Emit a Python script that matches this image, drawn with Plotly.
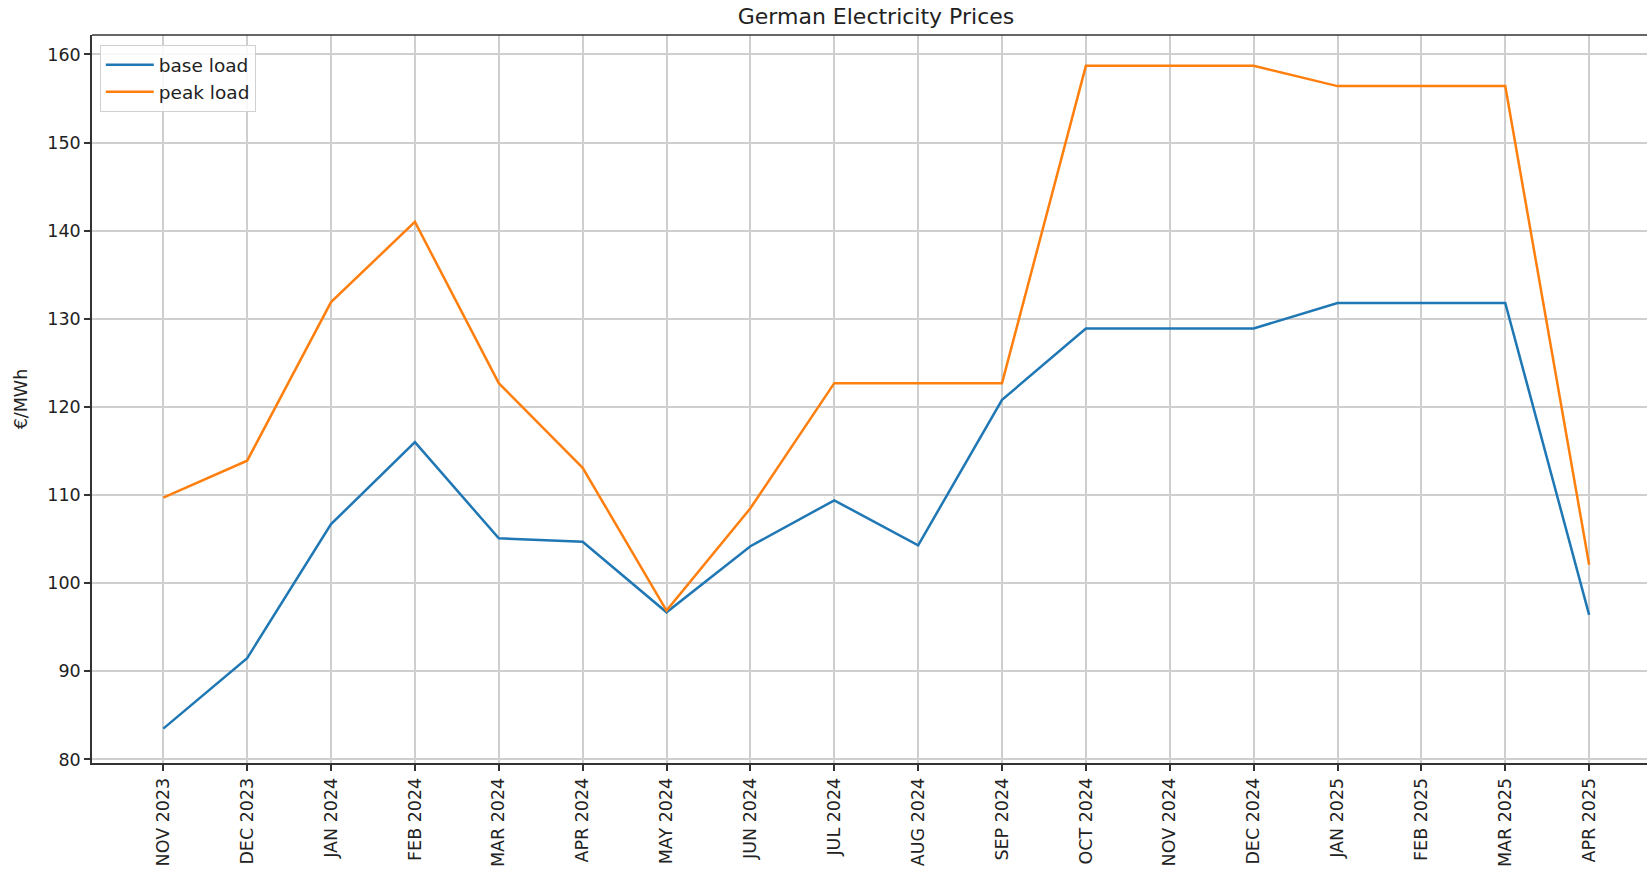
import plotly.graph_objects as go

months = ["NOV 2023", "DEC 2023", "JAN 2024", "FEB 2024", "MAR 2024", "APR 2024",
          "MAY 2024", "JUN 2024", "JUL 2024", "AUG 2024", "SEP 2024", "OCT 2024",
          "NOV 2024", "DEC 2024", "JAN 2025", "FEB 2025", "MAR 2025", "APR 2025"]
base_load = [83.5, 91.5, 106.7, 116.0, 105.1, 104.7, 96.7, 104.2, 109.4, 104.3,
             120.8, 128.9, 128.9, 128.9, 131.8, 131.8, 131.8, 96.4]
peak_load = [109.7, 113.9, 131.9, 141.0, 122.7, 113.1, 96.9, 108.5, 122.7, 122.7,
             122.7, 158.7, 158.7, 158.7, 156.4, 156.4, 156.4, 102.1]
y_ticks = [80, 90, 100, 110, 120, 130, 140, 150, 160]

FONT = "DejaVu Sans"
x_idx = list(range(len(months)))

fig = go.Figure()
fig.add_trace(go.Scatter(x=x_idx, y=base_load, mode="lines", name="base load",
                         line=dict(color="#1f77b4", width=2.5)))
fig.add_trace(go.Scatter(x=x_idx, y=peak_load, mode="lines", name="peak load",
                         line=dict(color="#ff7f0e", width=2.5)))

fig.update_layout(
    width=1647, height=876,
    margin=dict(l=92, r=0, t=35, b=113),
    paper_bgcolor="white", plot_bgcolor="white",
    font=dict(family=FONT, size=17, color="#222"),
    title=dict(text="German Electricity Prices", x=876 / 1647, xanchor="center",
               y=1 - 16 / 876, yanchor="middle",
               font=dict(family=FONT, size=22, color="#222")),
    showlegend=True,
    legend=dict(x=0.005, y=0.986, xanchor="left", yanchor="top",
                bgcolor="rgba(255,255,255,0.85)", bordercolor="#d0d0d0", borderwidth=1,
                font=dict(family=FONT, size=18.5, color="#222"),
                itemwidth=48, tracegroupgap=2),
)

fig.update_xaxes(
    range=[-0.85, 17.69],
    tickmode="array", tickvals=x_idx, ticktext=months, tickangle=-90,
    showgrid=True, gridcolor="#cfcfcf", gridwidth=1.5,
    showline=True, linecolor="#333", linewidth=1.5, mirror=False,
    ticks="outside", ticklen=6, tickwidth=1.5, tickcolor="#333",
    tickfont=dict(family=FONT, size=17.5, color="#222"),
    zeroline=False,
)
fig.update_yaxes(
    range=[79.6, 162.2],
    tickmode="array", tickvals=y_ticks,
    showgrid=True, gridcolor="#cfcfcf", gridwidth=1.5,
    showline=True, linecolor="#333", linewidth=1.5,
    ticks="outside", ticklen=6, tickwidth=1.5, tickcolor="#333",
    tickfont=dict(family=FONT, size=17.5, color="#222"),
    title=dict(text="€/MWh", font=dict(family=FONT, size=17.5, color="#222"), standoff=15),
    zeroline=False,
)
# top spine
fig.add_shape(type="line", xref="paper", yref="paper", x0=0, x1=1, y0=1, y1=1,
              line=dict(color="#333", width=1.5))

fig.write_html("out.html",
               config={"displayModeBar": False},
               post_script="document.body.style.margin='0';document.body.style.overflow='hidden';")
